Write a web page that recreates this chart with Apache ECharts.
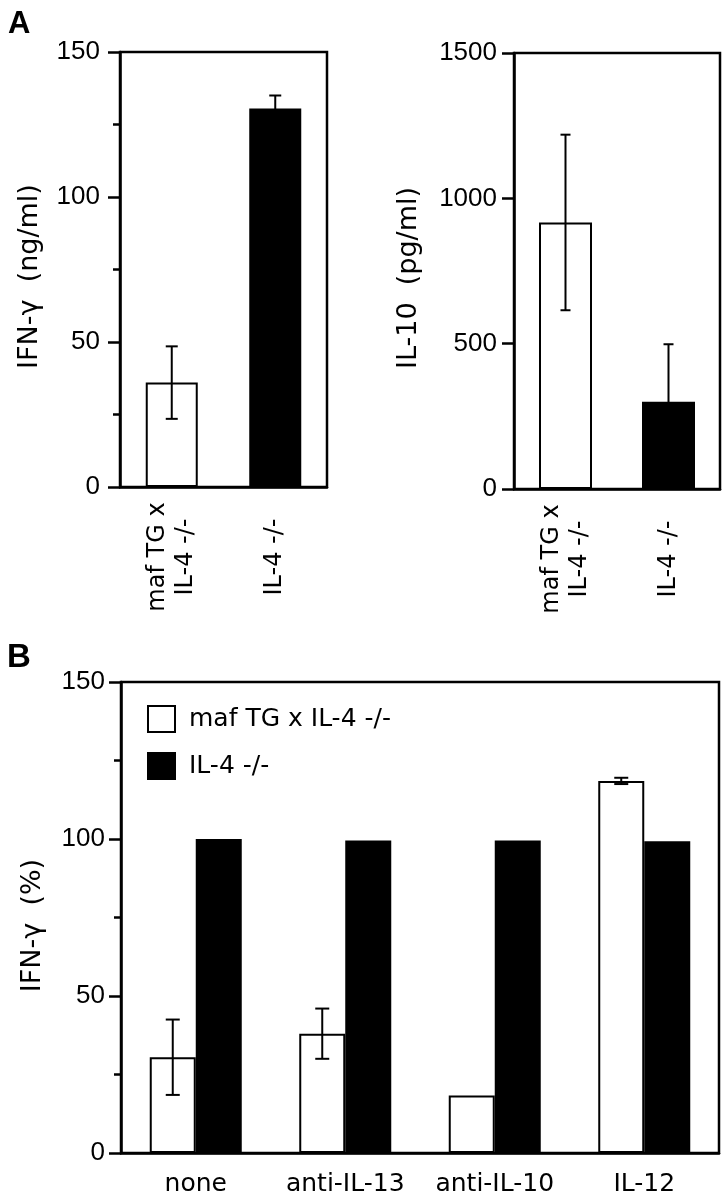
<!DOCTYPE html>
<html><head><meta charset="utf-8">
<script src="https://cdn.jsdelivr.net/npm/echarts@6/dist/echarts.min.js"></script>
<style>html,body{margin:0;padding:0;background:#fff}#c{width:726px;height:1200px}</style>
</head><body><div id="c"></div>
<script>
// ---- data ----
const groupsA = ['maf TG x\nIL-4 -/-', 'IL-4 -/-'];
const ifnA_mean = [36, 130.5];
const ifnA_err = [12.5, 4.5];
const il10A_mean = [917, 300];
const il10A_err = [302, 198];
const treatmentsB = ['none', 'anti-IL-13', 'anti-IL-10', 'IL-12'];
const seriesNames = ['maf TG x IL-4 -/-', 'IL-4 -/-'];
const mafB_mean = [30.5, 38, 18.3, 118.5];
const mafB_err = [12, 8, null, 1];
const il4B_mean = [100, 99.5, 99.5, 99.3];

// ---- styles ----
const WHITE = {color: '#fff', borderColor: '#000', borderWidth: 2};
const BLACK = {color: '#000', borderColor: '#000', borderWidth: 2};
const LBL = 'DejaVu Sans';
const NUM = 'Liberation Sans';
const LW = 2.5;

function errRender(offsetPx, capHalf) {
  return function (params, api) {
    const e = api.value(2);
    if (e == null || isNaN(e)) return null;
    const i = api.value(0), m = api.value(1);
    const pt = api.coord([i, m + e]);
    const pb = api.coord([i, m - e]);
    const x = pt[0] + offsetPx;
    const st = {stroke: '#000', lineWidth: 2};
    return {type: 'group', children: [
      {type: 'line', shape: {x1: x, y1: pt[1], x2: x, y2: pb[1]}, style: st},
      {type: 'line', shape: {x1: x - capHalf, y1: pt[1], x2: x + capHalf, y2: pt[1]}, style: st},
      {type: 'line', shape: {x1: x - capHalf, y1: pb[1], x2: x + capHalf, y2: pb[1]}, style: st}
    ]};
  };
}

function yAxis(gi, max, interval, name, nameGap, pad, minor, margin, fs) {
  return {
    type: 'value', gridIndex: gi, min: 0, max: max, interval: interval,
    name: name, nameLocation: 'middle', nameGap: nameGap, nameRotate: 90,
    nameTextStyle: {fontFamily: LBL, fontSize: fs, color: '#000', padding: pad},
    axisLine: {show: true, lineStyle: {color: '#000', width: LW}},
    axisTick: {show: true, inside: false, length: 12, lineStyle: {color: '#000', width: LW}},
    minorTick: {show: minor, splitNumber: 2, length: 7, lineStyle: {color: '#000', width: LW}},
    splitLine: {show: false},
    axisLabel: {fontFamily: NUM, fontSize: 26, color: '#000', margin: margin,
      formatter: v => String(v)}
  };
}
function xAxisA(gi) {
  return {
    type: 'category', gridIndex: gi, data: groupsA,
    axisLine: {show: true, lineStyle: {color: '#000', width: LW}},
    axisTick: {show: false},
    axisLabel: {rotate: 90, align: 'center', margin: 70, fontFamily: LBL, fontSize: 24,
      lineHeight: 28, color: '#000', interval: 0}
  };
}

const chart = echarts.init(document.getElementById('c'), null, {renderer: 'canvas'});
chart.setOption({
  animation: false,
  backgroundColor: '#fff',
  graphic: [
    {type: 'text', left: 8, top: 9, style: {text: 'A', font: 'bold 31px "Liberation Sans"', fill: '#000'}},
    {type: 'text', left: 7, top: 641, style: {text: 'B', font: 'bold 33px "Liberation Sans"', fill: '#000'}}
  ],
  grid: [
    {left: 120, top: 52, width: 207, height: 435, show: true, borderColor: '#000', borderWidth: LW},
    {left: 514, top: 53, width: 206, height: 436, show: true, borderColor: '#000', borderWidth: LW},
    {left: 121, top: 682, width: 598, height: 471, show: true, borderColor: '#000', borderWidth: LW}
  ],
  legend: {
    orient: 'vertical', left: 147, top: 705, padding: 0, itemWidth: 27, itemHeight: 26, itemGap: 19,
    icon: 'rect',
    textStyle: {fontFamily: LBL, fontSize: 25, color: '#000', padding: [0, 0, 0, 9]},
    data: [
      {name: seriesNames[0], itemStyle: WHITE},
      {name: seriesNames[1], itemStyle: BLACK}
    ],
    selectedMode: false
  },
  xAxis: [
    xAxisA(0), xAxisA(1),
    {
      type: 'category', gridIndex: 2, data: treatmentsB,
      axisLine: {show: true, lineStyle: {color: '#000', width: LW}},
      axisTick: {show: false},
      axisLabel: {margin: 19, fontFamily: LBL, fontSize: 25, color: '#000', interval: 0}
    }
  ],
  yAxis: [
    yAxis(0, 150, 50, 'IFN-\u03b3  (ng/ml)', 77, [0, 14, 0, 0], true, 20, 27),
    yAxis(1, 1500, 500, 'IL-10  (pg/ml)', 92, [0, 14, 0, 0], false, 17, 27),
    yAxis(2, 150, 50, 'IFN-\u03b3  (%)', 75, [0, 16, 0, 0], true, 16, 27)
  ],
  series: [
    {type: 'bar', name: 'A1', xAxisIndex: 0, yAxisIndex: 0, barWidth: 52,
      data: ifnA_mean.map((v, i) => ({value: v, itemStyle: i === 0 ? WHITE : BLACK}))},
    {type: 'custom', xAxisIndex: 0, yAxisIndex: 0, z: 5, renderItem: errRender(0, 6),
      data: ifnA_mean.map((v, i) => [i, v, ifnA_err[i]])},
    {type: 'bar', name: 'A2', xAxisIndex: 1, yAxisIndex: 1, barWidth: 53,
      data: il10A_mean.map((v, i) => ({value: v, itemStyle: i === 0 ? WHITE : BLACK}))},
    {type: 'custom', xAxisIndex: 1, yAxisIndex: 1, z: 5, renderItem: errRender(0, 5),
      data: il10A_mean.map((v, i) => [i, v, il10A_err[i]])},
    {type: 'bar', name: seriesNames[0], xAxisIndex: 2, yAxisIndex: 2, barWidth: 46, barGap: '0%',
      itemStyle: WHITE, data: mafB_mean},
    {type: 'bar', name: seriesNames[1], xAxisIndex: 2, yAxisIndex: 2, barWidth: 46, barGap: '0%',
      itemStyle: BLACK, data: il4B_mean},
    {type: 'custom', xAxisIndex: 2, yAxisIndex: 2, z: 5, renderItem: errRender(-23, 7),
      data: mafB_mean.map((v, i) => [i, v, mafB_err[i]])}
  ]
});
</script>
</body></html>
